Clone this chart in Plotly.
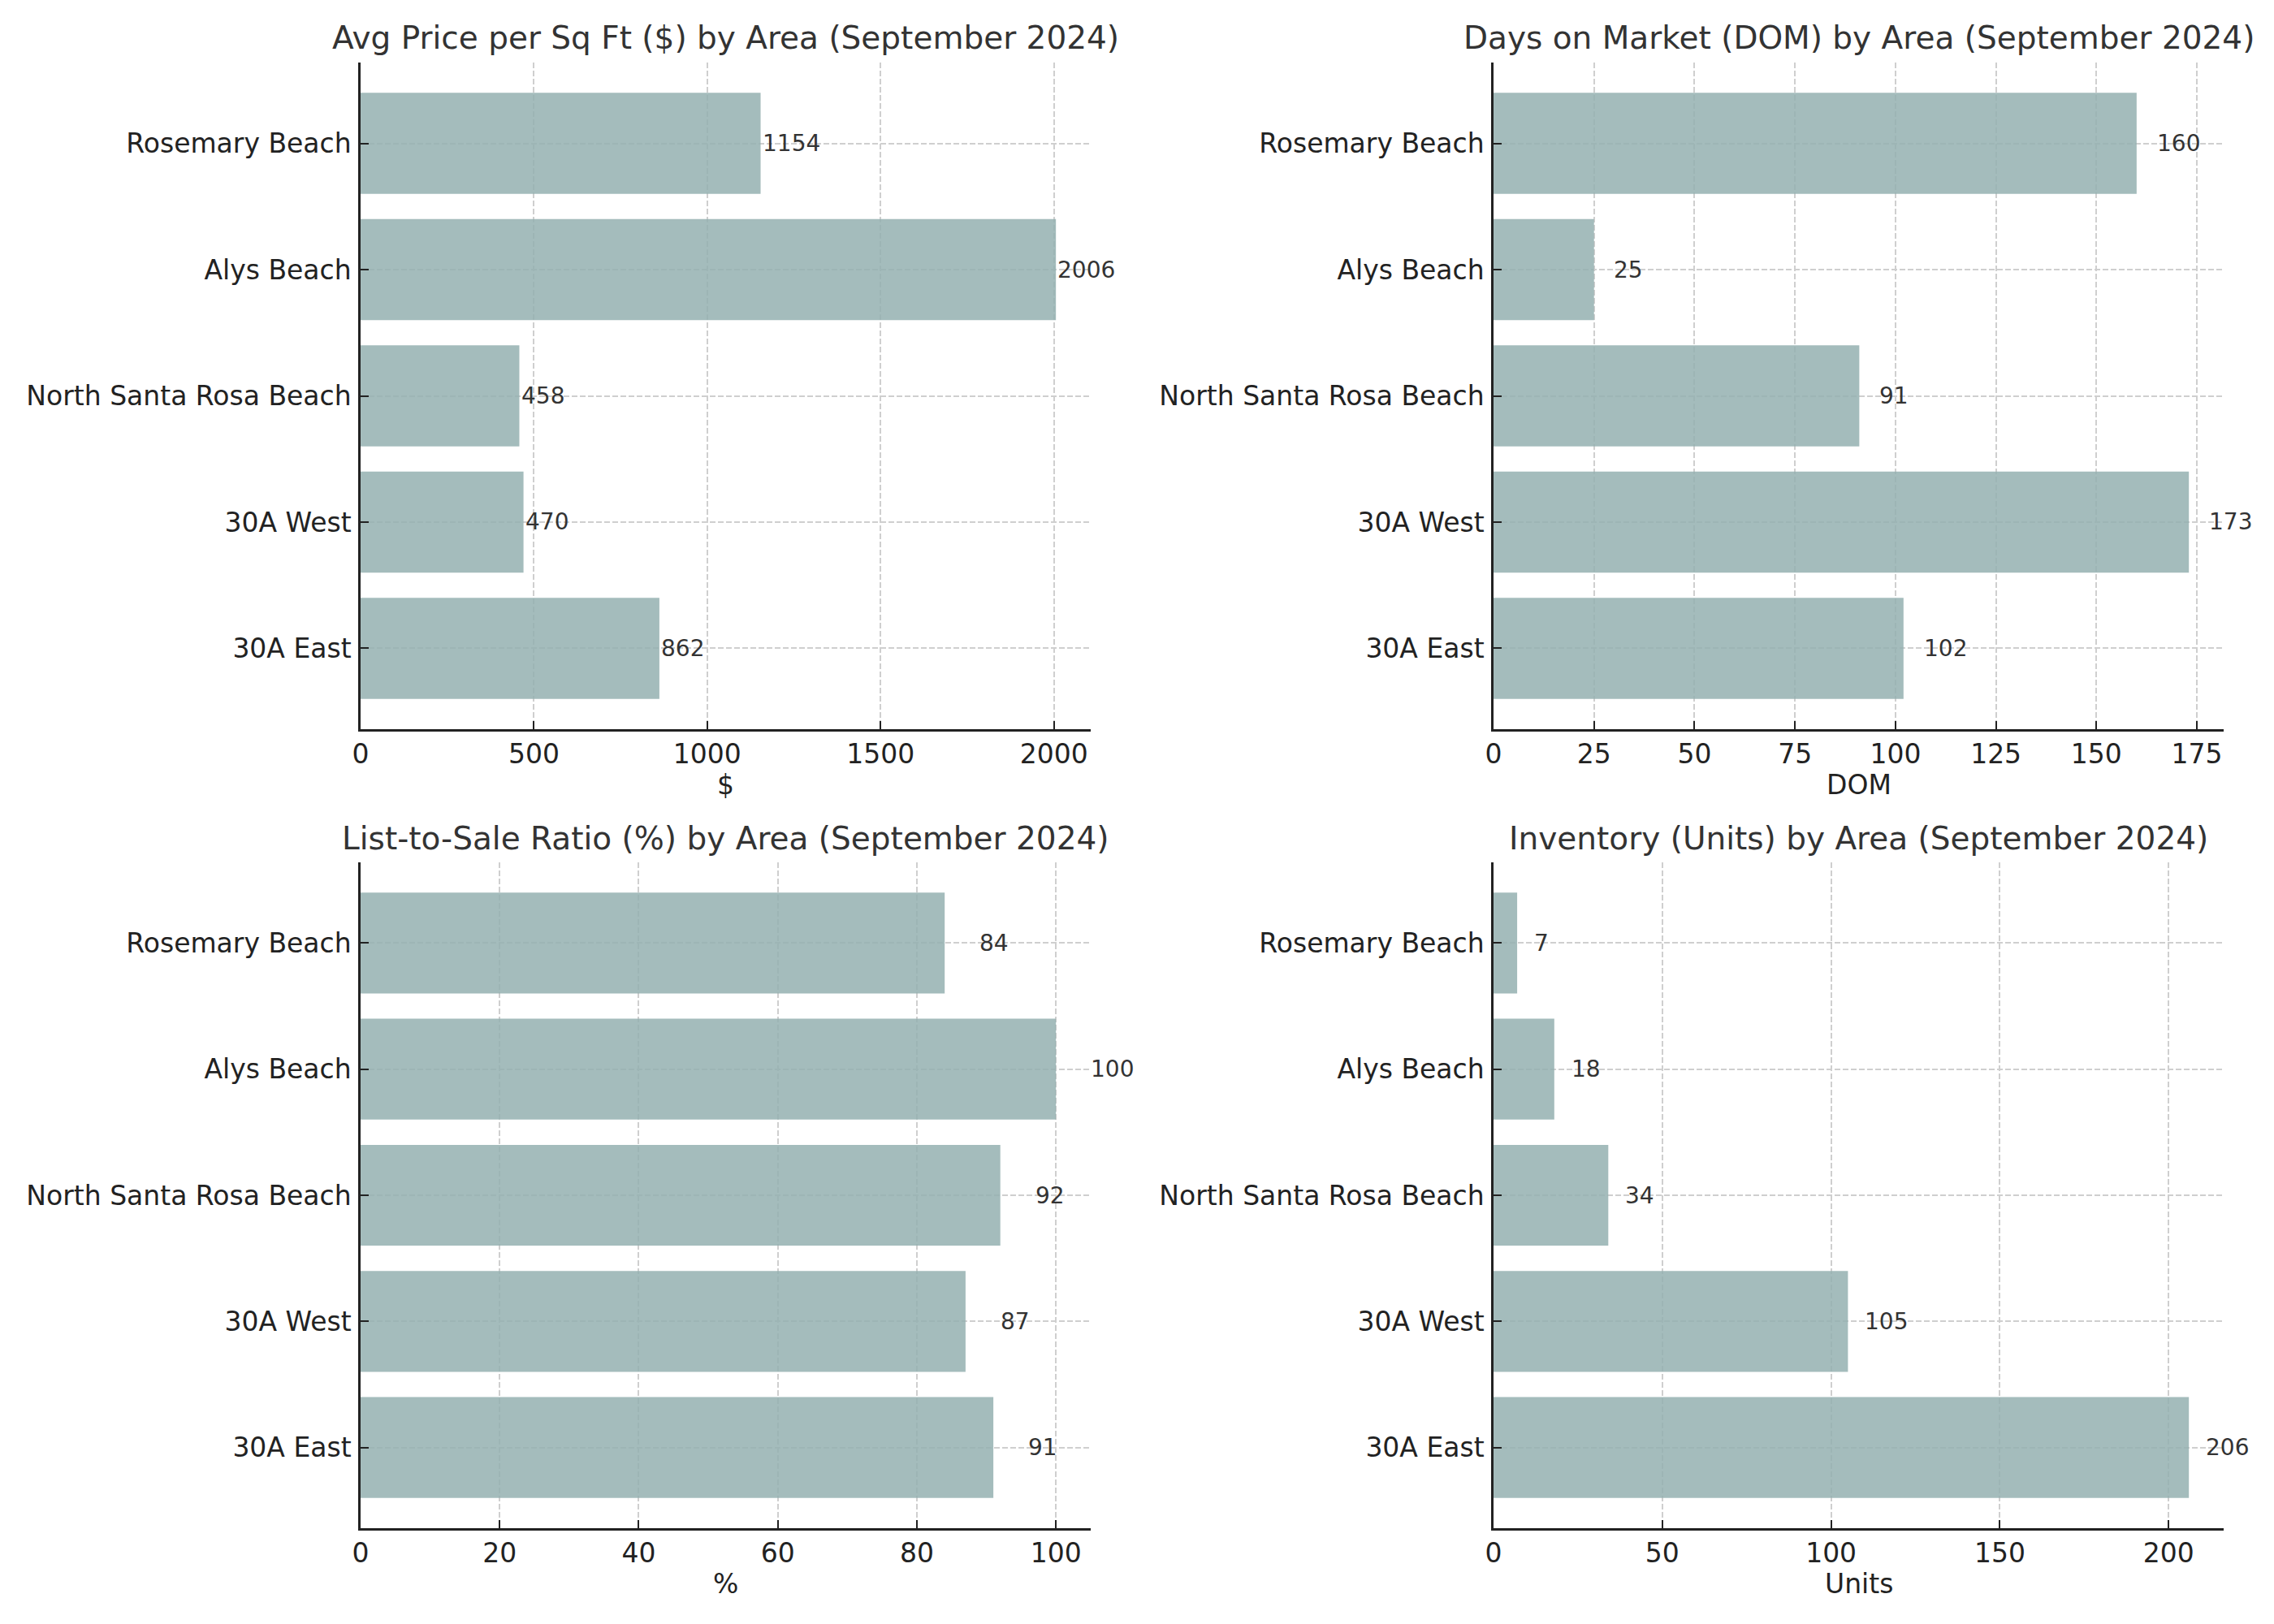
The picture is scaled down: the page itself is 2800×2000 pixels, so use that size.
import plotly.graph_objects as go

# ---- data (bottom-to-top order, as drawn by barh) ----
areas = ["30A East", "30A West", "North Santa Rosa Beach", "Alys Beach", "Rosemary Beach"]
price_sqft = [862, 470, 458, 2006, 1154]
dom = [102, 173, 91, 25, 160]
list_to_sale = [91, 87, 92, 100, 84]
inventory = [206, 105, 34, 18, 7]

titles = [
    "Avg Price per Sq Ft ($) by Area (September 2024)",
    "Days on Market (DOM) by Area (September 2024)",
    "List-to-Sale Ratio (%) by Area (September 2024)",
    "Inventory (Units) by Area (September 2024)",
]
xlabels = ["$", "DOM", "%", "Units"]
dticks = [500, 25, 20, 50]
series = [price_sqft, dom, list_to_sale, inventory]
label_offset = 5

W, H = 2800, 2000
# axes boxes in pixels: (left, right, top, bottom)
boxes = [
    (444, 1343, 77, 898),
    (1839, 2738, 77, 898),
    (444, 1343, 1062, 1882),
    (1839, 2738, 1062, 1882),
]

BAR = "rgba(149,177,177,0.86)"
FONT = "DejaVu Sans"

fig = go.Figure()
annotations = []
for i, (vals, box) in enumerate(zip(series, boxes)):
    n = i + 1
    xa = "x" if n == 1 else f"x{n}"
    ya = "y" if n == 1 else f"y{n}"
    fig.add_trace(go.Bar(
        x=vals, y=areas, orientation="h",
        marker=dict(color=BAR, line=dict(width=0)),
        xaxis=xa, yaxis=ya, showlegend=False, hoverinfo="skip",
    ))
    left, right, top, bottom = box
    xdom = [left / W, right / W]
    ydom = [1 - bottom / H, 1 - top / H]
    vmax = max(vals)
    common_grid = dict(showgrid=True, gridcolor="#cfcfcf", gridwidth=2, griddash="7px,3px")
    fig.layout[f"xaxis{'' if n == 1 else n}"] = dict(
        domain=xdom, anchor=ya, range=[0, vmax * 1.05], automargin=False,
        dtick=dticks[i], tick0=0,
        showline=True, linecolor="#222", linewidth=2.5,
        ticks="inside", ticklen=10, tickwidth=2, tickcolor="#222",
        tickfont=dict(family=FONT, size=33, color="#222"),
        zeroline=False, **common_grid,
    )
    fig.layout[f"yaxis{'' if n == 1 else n}"] = dict(
        domain=ydom, anchor=xa, type="category", range=[-0.64, 4.64], automargin=False,
        showline=True, linecolor="#222", linewidth=2.5,
        ticks="inside", ticklen=10, tickwidth=2, tickcolor="#222",
        tickfont=dict(family=FONT, size=33, color="#222"),
        ticklabelstandoff=2,
        zeroline=False, **common_grid,
    )
    # value labels
    for a, v in zip(areas, vals):
        annotations.append(dict(
            x=v + label_offset, y=a, xref=xa, yref=ya,
            text=str(v), showarrow=False, xanchor="left", yanchor="middle",
            font=dict(family=FONT, size=28, color="#333"), xshift=-2,
        ))
    # subplot title
    annotations.append(dict(
        x=(xdom[0] + xdom[1]) / 2, y=1 - (top - 30) / H, xref="paper", yref="paper",
        text=titles[i], showarrow=False, xanchor="center", yanchor="middle",
        font=dict(family=FONT, size=39, color="#333"),
    ))
    # x axis label
    annotations.append(dict(
        x=(xdom[0] + xdom[1]) / 2, y=1 - (bottom + 68) / H, xref="paper", yref="paper",
        text=xlabels[i], showarrow=False, xanchor="center", yanchor="middle",
        font=dict(family=FONT, size=33, color="#222"),
    ))

fig.update_layout(
    width=W, height=H,
    margin=dict(l=0, r=0, t=0, b=0, autoexpand=False),
    paper_bgcolor="white", plot_bgcolor="white",
    bargap=0.2,
    annotations=annotations,
    font=dict(family=FONT),
)

fig.write_html("out.html")
